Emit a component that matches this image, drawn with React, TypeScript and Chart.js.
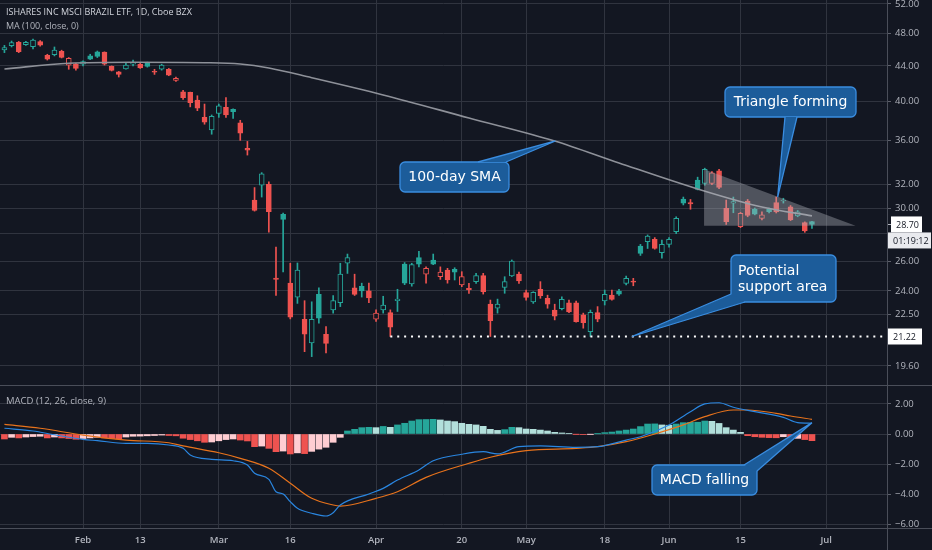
import React, { useEffect, useRef } from 'react';
import { Chart, registerables } from 'chart.js';

Chart.register(...registerables);

// ---------------- data ----------------
const opens = [
  45.93, 46.47, 46.9, 46.6, 46.34, 46.97, 45.28, 45.35, 45.77, 44.1,
  44.2, 44.2, 45.2, 45.7, 45.68, 43.96, 43.3, 43.65, 44.2, 44.2,
  44.3, 43.35, 43.6, 43.6, 42.3, 41.04, 40.97, 40.14, 38.3, 37.02,
  38.7, 39.36, 39.15, 37.75, 35.24, 30.65, 31.9, 31.98, 24.83, 29.5,
  24.5, 23.6, 22.23, 20.86, 23.77, 21.34, 22.79, 23.24, 25.85, 24.2,
  24.3, 24.0, 22.23, 22.79, 22.63, 23.37, 25.8, 24.45, 26.24, 25.1,
  26.08, 24.94, 25.38, 25.43, 24.38, 24.16, 24.6, 25.0, 23.15, 22.9,
  24.22, 24.98, 25.1, 23.88, 23.3, 24.1, 23.52, 22.79, 22.87, 23.24,
  23.24, 22.49, 21.5, 22.63, 23.35, 23.72, 23.98, 24.49, 24.64, 27.07,
  27.39, 27.57, 26.6, 27.2, 28.14, 30.73, 30.44, 32.35, 32.06, 32.06,
  33.17, 29.97, 30.39, 28.53, 30.57, 29.9, 29.18, 29.92, 30.44, 30.57,
  30.1, 29.37, 28.84, 28.92,
];
const highs = [
  46.5, 47.05, 47.0, 47.0, 47.3, 47.1, 45.4, 46.3, 45.9, 45.0,
  44.3, 44.6, 45.4, 45.8, 45.7, 44.0, 43.35, 44.3, 44.7, 44.3,
  44.45, 43.6, 44.2, 43.7, 42.7, 41.2, 41.0, 40.6, 39.7, 38.55,
  39.7, 40.4, 39.2, 38.0, 35.9, 31.7, 33.0, 32.2, 27.0, 29.6,
  25.85, 25.87, 23.37, 23.3, 24.2, 21.8, 23.7, 25.85, 26.5, 25.1,
  24.5, 24.5, 22.8, 23.65, 22.8, 24.1, 25.9, 25.85, 26.7, 25.6,
  26.5, 25.6, 25.5, 25.54, 25.27, 24.49, 25.16, 25.16, 23.41, 23.47,
  24.93, 26.08, 25.24, 24.05, 23.94, 24.6, 23.72, 23.15, 23.62, 23.41,
  23.35, 22.6, 22.79, 23.0, 24.05, 24.05, 24.1, 24.98, 24.82, 27.2,
  27.9, 27.7, 27.52, 27.7, 29.3, 30.9, 30.7, 32.6, 33.4, 33.1,
  33.3, 30.65, 30.9, 29.65, 30.7, 30.0, 29.7, 30.0, 30.9, 30.8,
  30.2, 29.8, 28.9, 28.95,
];
const lows = [
  45.6, 46.3, 45.6, 46.5, 46.05, 46.4, 44.7, 45.2, 44.95, 43.6,
  43.5, 44.0, 44.75, 45.0, 44.1, 43.4, 42.7, 43.6, 44.0, 43.7,
  43.85, 43.0, 43.5, 42.85, 42.2, 40.2, 39.4, 39.0, 37.6, 36.6,
  38.3, 38.3, 38.2, 36.0, 34.6, 29.75, 30.9, 28.1, 23.7, 25.26,
  22.25, 23.2, 20.37, 20.1, 22.0, 20.3, 22.6, 23.0, 25.15, 23.7,
  23.6, 23.24, 22.1, 22.6, 21.22, 22.7, 24.4, 24.3, 25.6, 24.5,
  25.75, 24.75, 24.5, 24.71, 24.27, 23.84, 24.49, 23.79, 21.22, 22.6,
  23.84, 24.94, 24.49, 23.41, 23.2, 23.52, 22.9, 22.19, 22.79, 22.63,
  22.05, 21.7, 21.22, 22.08, 23.1, 23.41, 23.7, 24.38, 24.33, 26.4,
  26.9, 26.85, 26.2, 27.0, 28.0, 30.25, 29.9, 31.5, 31.9, 31.95,
  31.6, 28.7, 29.62, 28.45, 29.3, 29.45, 29.05, 29.6, 29.6, 30.4,
  29.0, 29.3, 28.1, 28.4,
];
const closes = [
  46.22, 46.84, 45.72, 46.9, 47.18, 46.52, 44.79, 45.93, 45.02, 44.9,
  43.7, 44.5, 44.8, 45.15, 44.2, 43.48, 43.0, 44.1, 44.35, 43.75,
  43.95, 43.25, 44.1, 42.9, 42.55, 40.4, 39.85, 39.25, 37.8, 38.4,
  39.5, 38.55, 38.9, 36.7, 35.05, 29.8, 32.9, 29.7, 24.75, 29.1,
  22.35, 25.38, 21.36, 22.23, 22.29, 20.83, 23.37, 25.11, 26.24, 23.77,
  24.0, 23.55, 22.6, 23.1, 21.76, 23.47, 24.5, 25.75, 25.78, 25.5,
  25.78, 25.24, 24.71, 25.23, 24.94, 24.05, 25.0, 23.94, 22.15, 23.15,
  24.6, 26.0, 24.65, 23.58, 23.9, 23.69, 23.15, 22.42, 23.45, 22.68,
  22.08, 22.03, 22.65, 22.23, 23.77, 23.45, 23.79, 24.82, 24.56, 26.55,
  27.82, 26.91, 27.2, 27.57, 29.18, 30.4, 30.34, 31.55, 33.3, 32.99,
  31.72, 28.92, 30.52, 29.57, 29.4, 29.5, 29.45, 29.7, 29.68, 30.65,
  29.05, 29.7, 28.21, 28.7,
];

// 100-day SMA read at bar index
const smaPoints: [number, number][] = [
  [0, 43.64], [9, 44.31], [18, 44.43], [28, 44.38], [33, 44.23], [37, 43.76],
  [43, 42.62], [53, 40.69], [65, 38.24], [77, 35.94], [86, 33.87], [97, 31.58],
  [106, 30.08], [113, 29.37],
];

// MACD (12, 26, close, 9)
const macdPoints: [number, number][] = [
  [0, 0.38], [4, 0.2], [7, -0.05], [11, -0.35], [13, -0.44], [17, -0.62], [20, -0.62],
  [23, -0.73], [25, -0.95], [26, -1.39], [29, -1.68], [32, -1.77], [34, -2.05], [35, -2.6],
  [37, -3.0], [38, -3.82], [39, -3.97], [40, -4.48], [41, -4.92], [43, -5.25], [45, -5.43],
  [46, -5.21], [47, -4.7], [51, -3.97], [53, -3.6], [55, -3.05], [58, -2.38], [60, -1.77],
  [64, -1.34], [67, -1.17], [69, -1.32], [72, -0.84], [75, -0.79], [80, -0.88], [83, -0.84],
  [87, -0.4], [89, -0.18], [93, 0.6], [96, 1.48], [98, 1.99], [100, 2.07], [102, 1.77],
  [105, 1.48], [109, 1.1], [111, 0.75], [113, 0.71],
];
const signalPoints: [number, number][] = [
  [0, 0.64], [5, 0.38], [11, -0.07], [17, -0.4], [23, -0.58], [25, -0.79], [30, -1.24],
  [33, -1.61], [37, -2.27], [40, -3.26], [43, -4.26], [46, -4.7], [47, -4.77], [52, -4.26],
  [55, -3.82], [59, -2.87], [65, -1.94], [68, -1.54], [73, -1.1], [80, -0.95], [83, -0.84],
  [87, -0.51], [91, 0.0], [95, 0.6], [98, 1.15], [102, 1.59], [104, 1.59], [108, 1.37],
  [110, 1.19], [113, 0.97],
];
const histogram = [
  -0.33, -0.22, -0.26, -0.2, -0.17, -0.15, -0.26, -0.2, -0.26, -0.3,
  -0.35, -0.3, -0.26, -0.22, -0.26, -0.3, -0.33, -0.2, -0.15, -0.14,
  -0.12, -0.1, -0.07, -0.1, -0.12, -0.28, -0.37, -0.45, -0.55, -0.53,
  -0.45, -0.37, -0.33, -0.4, -0.46, -0.84, -0.8, -0.95, -1.17, -1.13,
  -1.32, -1.25, -1.3, -1.15, -1.0, -0.88, -0.55, -0.22, 0.2, 0.31,
  0.42, 0.44, 0.42, 0.5, 0.44, 0.6, 0.71, 0.86, 0.95, 0.96,
  0.97, 0.93, 0.86, 0.82, 0.71, 0.64, 0.6, 0.51, 0.31, 0.24,
  0.29, 0.44, 0.42, 0.33, 0.31, 0.26, 0.2, 0.11, 0.07, 0.02,
  -0.01, -0.02, -0.01, 0.01, 0.09, 0.13, 0.2, 0.26, 0.33, 0.49,
  0.66, 0.67, 0.6, 0.58, 0.66, 0.75, 0.77, 0.78, 0.86, 0.84,
  0.7, 0.42, 0.26, 0.11, -0.11, -0.18, -0.22, -0.24, -0.25, -0.18,
  -0.33, -0.29, -0.37, -0.44,
];

// time axis (bar index of each labelled trading day)
const timeTickIndex = [11, 19, 30, 40, 52, 64, 73, 84, 93, 103, 115];
const timeTickLabels = ['Feb', '13', 'Mar', '16', 'Apr', '20', 'May', '18', 'Jun', '15', 'Jul'];

const priceTicks = [52, 48, 44, 40, 36, 32, 30, 28, 26, 24, 22.5, 19.6];
const macdTicks = [2, 0, -2, -4, -6];

const supportLevel = 21.22;
const supportStartIndex = 54;
const lastPrice = 28.7;
const countdownText = '01:19:12';
const trianglePoints: [number, number][] = [[97.9, 33.3], [97.9, 28.6], [119.1, 28.6]];

const titleText = 'ISHARES INC MSCI BRAZIL ETF, 1D, Cboe BZX';
const maLegend = 'MA (100, close, 0)';
const macdLegend = 'MACD (12, 26, close, 9)';

// ---------------- layout / style ----------------
const X_MIN = -0.62;
const X_MAX = 123.5;
const PRICE_MIN = 18.62;
const PRICE_MAX = 52.55;
const MACD_MIN = -6.225;
const MACD_MAX = 3.245;

const BG = '#131722';
const GRID = '#30343f';
const AXIS_LINE = '#4a4e59';
const TEXT = '#b2b5be';
const GREEN = '#26a69a';
const RED = '#ef5350';
const FONT = '"Open Sans", "Noto Sans", sans-serif';
const CALLOUT_FONT = '14px "DejaVu Sans", sans-serif';
const CALLOUT_FILL = '#1c5c9a';
const CALLOUT_EDGE = '#3a8de0';

type Callout = {
  lines: string[];
  box: [number, number, number, number];
  base: [[number, number], [number, number]];
  tip: [number, number];
  align: 'center' | 'left';
};

const priceCallouts: Callout[] = [
  { lines: ['100-day SMA'], box: [400, 162, 109, 30], base: [[478, 162], [506, 162]], tip: [77.1, 35.94], align: 'center' },
  { lines: ['Triangle forming'], box: [725, 87, 131, 30], base: [[785, 117], [797, 117]], tip: [108.2, 30.9], align: 'center' },
  { lines: ['Potential', 'support area'], box: [731, 255, 105, 47], base: [[731, 294], [745, 302]], tip: [87.8, 21.22], align: 'left' },
];
const macdCallouts: Callout[] = [
  { lines: ['MACD falling'], box: [652, 80, 105, 30], base: [[744, 80], [757, 86]], tip: [113, 0.75], align: 'center' },
];

function roundRectPath(ctx: CanvasRenderingContext2D, x: number, y: number, w: number, h: number, r: number) {
  ctx.beginPath();
  ctx.moveTo(x + r, y);
  ctx.lineTo(x + w - r, y);
  ctx.arcTo(x + w, y, x + w, y + r, r);
  ctx.lineTo(x + w, y + h - r);
  ctx.arcTo(x + w, y + h, x + w - r, y + h, r);
  ctx.lineTo(x + r, y + h);
  ctx.arcTo(x, y + h, x, y + h - r, r);
  ctx.lineTo(x, y + r);
  ctx.arcTo(x, y, x + r, y, r);
  ctx.closePath();
}

function drawCallout(ctx: CanvasRenderingContext2D, c: Callout, tx: number, ty: number) {
  const [bx, by, bw, bh] = c.box;
  ctx.save();
  roundRectPath(ctx, bx, by, bw, bh, 5);
  ctx.fillStyle = CALLOUT_FILL;
  ctx.fill();
  ctx.strokeStyle = CALLOUT_EDGE;
  ctx.lineWidth = 1.3;
  ctx.stroke();
  ctx.beginPath();
  ctx.moveTo(c.base[0][0], c.base[0][1]);
  ctx.lineTo(tx, ty);
  ctx.lineTo(c.base[1][0], c.base[1][1]);
  ctx.closePath();
  ctx.fill();
  ctx.beginPath();
  ctx.moveTo(c.base[0][0], c.base[0][1]);
  ctx.lineTo(tx, ty);
  ctx.lineTo(c.base[1][0], c.base[1][1]);
  ctx.stroke();
  ctx.fillStyle = '#ffffff';
  ctx.font = CALLOUT_FONT;
  ctx.textBaseline = 'middle';
  const lh = 16;
  const startY = by + bh / 2 - ((c.lines.length - 1) * lh) / 2;
  c.lines.forEach((line, k) => {
    if (c.align === 'center') {
      ctx.textAlign = 'center';
      ctx.fillText(line, bx + bw / 2, startY + k * lh + 0.5);
    } else {
      ctx.textAlign = 'left';
      ctx.fillText(line, bx + 7, startY + k * lh + 0.5);
    }
  });
  ctx.restore();
}

function axisLabel(ctx: CanvasRenderingContext2D, text: string, x: number, y: number, w: number, bg: string) {
  ctx.save();
  ctx.fillStyle = bg;
  ctx.fillRect(x, y - 8, w, 16);
  ctx.fillStyle = BG;
  ctx.font = `9px ${FONT}`;
  ctx.textBaseline = 'middle';
  ctx.textAlign = 'left';
  ctx.fillText(text, x + 5, y + 0.5);
  ctx.restore();
}

const candleColors = closes.map((c, i) => (c >= (i === 0 ? opens[0] : closes[i - 1]) ? GREEN : RED));
const candleHollow = closes.map((c, i) => c > opens[i]);
const histColors = histogram.map((v, i) => {
  const prev = i === 0 ? v : histogram[i - 1];
  if (v >= 0) return prev < v ? GREEN : '#b2dfdb';
  return prev < v ? '#ffcdd2' : '#ef5350';
});

const timeLabel = (v: number) => {
  const k = timeTickIndex.indexOf(v);
  return k >= 0 ? timeTickLabels[k] : '';
};

const pricePlugin = {
  id: 'priceDecor',
  afterDatasetsDraw(chart: any) {
    const { ctx, scales } = chart;
    const x = scales.x;
    const y = scales.y;
    ctx.save();
    ctx.beginPath();
    trianglePoints.forEach(([i, p], k) => {
      const px = x.getPixelForValue(i);
      const py = y.getPixelForValue(p);
      if (k === 0) ctx.moveTo(px, py);
      else ctx.lineTo(px, py);
    });
    ctx.closePath();
    ctx.fillStyle = 'rgba(178,181,190,0.38)';
    ctx.fill();
    ctx.restore();
  },
  afterDraw(chart: any) {
    const { ctx, scales, chartArea, width } = chart;
    const x = scales.x;
    const y = scales.y;
    priceCallouts.forEach((c) => drawCallout(ctx, c, x.getPixelForValue(c.tip[0]), y.getPixelForValue(c.tip[1])));

    // legend
    ctx.save();
    ctx.textBaseline = 'middle';
    ctx.textAlign = 'left';
    ctx.font = `9px ${FONT}`;
    ctx.fillStyle = '#d1d4dc';
    ctx.fillText(titleText, 6, 12.5);
    ctx.fillStyle = TEXT;
    ctx.fillText(maLegend, 6, 26);
    ctx.restore();

    // axis labels
    const r = chartArea.right;
    const yl = y.getPixelForValue(lastPrice);
    ctx.save();
    ctx.strokeStyle = TEXT;
    ctx.beginPath();
    ctx.moveTo(r, Math.round(yl) + 0.5);
    ctx.lineTo(r + 4, Math.round(yl) + 0.5);
    ctx.stroke();
    ctx.restore();
    axisLabel(ctx, lastPrice.toFixed(2), r + 4, yl, 31, '#ffffff');
    axisLabel(ctx, countdownText, r + 1, yl + 16, width - r - 2, '#e9eaee');
    const ys = y.getPixelForValue(supportLevel);
    axisLabel(ctx, supportLevel.toFixed(2), r + 1, ys, 34, '#ffffff');

    // right border line
    ctx.save();
    ctx.strokeStyle = AXIS_LINE;
    ctx.beginPath();
    ctx.moveTo(r + 0.5, 0);
    ctx.lineTo(r + 0.5, chart.height);
    ctx.stroke();
    ctx.restore();
  },
};

const macdPlugin = {
  id: 'macdDecor',
  afterDraw(chart: any) {
    const { ctx, scales, chartArea, width, height } = chart;
    const x = scales.x;
    const y = scales.y;
    macdCallouts.forEach((c) => drawCallout(ctx, c, x.getPixelForValue(c.tip[0]), y.getPixelForValue(c.tip[1])));
    ctx.save();
    ctx.textBaseline = 'middle';
    ctx.textAlign = 'left';
    ctx.font = `9.5px ${FONT}`;
    ctx.fillStyle = TEXT;
    ctx.fillText(macdLegend, 6, 16);
    ctx.strokeStyle = AXIS_LINE;
    ctx.lineWidth = 1;
    ctx.beginPath();
    ctx.moveTo(0, 0.5);
    ctx.lineTo(width, 0.5);
    ctx.moveTo(0, Math.round(chartArea.bottom) + 0.5);
    ctx.lineTo(width, Math.round(chartArea.bottom) + 0.5);
    ctx.moveTo(chartArea.right + 0.5, 0);
    ctx.lineTo(chartArea.right + 0.5, height);
    ctx.stroke();
    ctx.restore();
  },
};

function xScale(showLabels: boolean, height: number) {
  return {
    type: 'linear' as const,
    min: X_MIN,
    max: X_MAX,
    offset: false,
    grid: { color: GRID, offset: false, drawTicks: false },
    border: { display: false },
    ticks: {
      display: showLabels,
      color: TEXT,
      font: { family: FONT, size: 9.5, weight: 600 as any },
      padding: 7,
      autoSkip: false,
      maxRotation: 0,
      callback: (v: any) => timeLabel(Number(v)),
    },
    afterBuildTicks: (s: any) => {
      s.ticks = timeTickIndex.map((v) => ({ value: v }));
    },
    afterFit: (s: any) => {
      s.height = height;
      s.paddingLeft = 0;
      s.paddingRight = 0;
    },
  };
}

function yTickFormat(v: number) {
  const s = Math.abs(v).toFixed(2);
  return v < 0 ? '\u2212' + s : s;
}

export default function App() {
  const priceRef = useRef<HTMLCanvasElement>(null);
  const macdRef = useRef<HTMLCanvasElement>(null);

  useEffect(() => {
    document.body.style.margin = '0';
    document.body.style.background = BG;

    const priceChart = new Chart(priceRef.current as HTMLCanvasElement, {
      type: 'bar',
      data: {
        datasets: [
          {
            type: 'line',
            label: 'MA 100',
            data: smaPoints.map(([x, y]) => ({ x, y })),
            borderColor: '#8e9199',
            borderWidth: 1.6,
            pointRadius: 0,
            cubicInterpolationMode: 'monotone',
            order: 0,
          } as any,
          {
            type: 'line',
            label: 'Support',
            data: [
              { x: supportStartIndex, y: supportLevel },
              { x: X_MAX, y: supportLevel },
            ],
            borderColor: '#ffffff',
            borderWidth: 2,
            borderDash: [2, 4.9],
            pointRadius: 0,
            order: 0,
          } as any,
          {
            type: 'bar',
            label: 'Body',
            data: opens.map((o, i) => ({ x: i, y: [o, closes[i]] })),
            backgroundColor: candleColors.map((c, i) => (candleHollow[i] ? BG : c)),
            borderColor: candleColors,
            borderWidth: 1,
            borderSkipped: false,
            barThickness: 5,
            maxBarThickness: 5,
            minBarLength: 1,
            grouped: false,
            order: 1,
          } as any,
          {
            type: 'bar',
            label: 'Wick',
            data: lows.map((l, i) => ({ x: i, y: [l, highs[i]] })),
            backgroundColor: candleColors,
            borderWidth: 0,
            barThickness: 1,
            maxBarThickness: 1,
            grouped: false,
            order: 2,
          } as any,
        ],
      },
      options: {
        animation: false,
        responsive: false,
        devicePixelRatio: 1,
        events: [],
        layout: { padding: 0 },
        plugins: { legend: { display: false }, tooltip: { enabled: false } },
        scales: {
          x: xScale(false, 0) as any,
          y: {
            type: 'logarithmic',
            position: 'right',
            min: PRICE_MIN,
            max: PRICE_MAX,
            beginAtZero: false,
            grid: { color: GRID, tickLength: 4, tickColor: '#5d606b' },
            border: { display: true, color: AXIS_LINE },
            ticks: {
              color: TEXT,
              font: { family: FONT, size: 9.5 },
              padding: 4,
              autoSkip: false,
              callback: (v: any) => (Number(v) === 28 ? '' : yTickFormat(Number(v))),
            },
            afterBuildTicks: (s: any) => {
              s.ticks = priceTicks.map((v) => ({ value: v }));
            },
            afterFit: (s: any) => {
              s.width = 45;
              s.paddingTop = 0;
              s.paddingBottom = 0;
            },
          } as any,
        },
      },
      plugins: [pricePlugin],
    });

    const macdChart = new Chart(macdRef.current as HTMLCanvasElement, {
      type: 'bar',
      data: {
        datasets: [
          {
            type: 'line',
            label: 'MACD',
            data: macdPoints.map(([x, y]) => ({ x, y })),
            borderColor: '#2a86e0',
            borderWidth: 1.2,
            pointRadius: 0,
            cubicInterpolationMode: 'monotone',
            order: 0,
          } as any,
          {
            type: 'line',
            label: 'Signal',
            data: signalPoints.map(([x, y]) => ({ x, y })),
            borderColor: '#e8731c',
            borderWidth: 1.2,
            pointRadius: 0,
            cubicInterpolationMode: 'monotone',
            order: 0,
          } as any,
          {
            type: 'bar',
            label: 'Histogram',
            data: histogram.map((v, i) => ({ x: i, y: v })),
            backgroundColor: histColors,
            borderWidth: 0,
            barThickness: 6,
            maxBarThickness: 6,
            order: 1,
          } as any,
        ],
      },
      options: {
        animation: false,
        responsive: false,
        devicePixelRatio: 1,
        events: [],
        layout: { padding: 0 },
        plugins: { legend: { display: false }, tooltip: { enabled: false } },
        scales: {
          x: xScale(true, 22) as any,
          y: {
            type: 'linear',
            position: 'right',
            min: MACD_MIN,
            max: MACD_MAX,
            beginAtZero: false,
            grid: { color: GRID, tickLength: 4, tickColor: '#5d606b' },
            border: { display: true, color: AXIS_LINE },
            ticks: {
              color: TEXT,
              font: { family: FONT, size: 9.5 },
              padding: 4,
              autoSkip: false,
              callback: (v: any) => yTickFormat(Number(v)),
            },
            afterBuildTicks: (s: any) => {
              s.ticks = macdTicks.map((v) => ({ value: v }));
            },
            afterFit: (s: any) => {
              s.width = 45;
              s.paddingTop = 0;
              s.paddingBottom = 0;
            },
          } as any,
        },
      },
      plugins: [macdPlugin],
    });

    return () => {
      priceChart.destroy();
      macdChart.destroy();
    };
  }, []);

  return (
    <div style={{ position: 'fixed', left: 0, top: 0, width: 932, height: 550, background: BG, overflow: 'hidden' }}>
      <canvas
        ref={priceRef}
        width={932}
        height={385}
        style={{ position: 'absolute', left: 0, top: 0, width: 932, height: 385 }}
      />
      <canvas
        ref={macdRef}
        width={932}
        height={165}
        style={{ position: 'absolute', left: 0, top: 385, width: 932, height: 165 }}
      />
    </div>
  );
}
